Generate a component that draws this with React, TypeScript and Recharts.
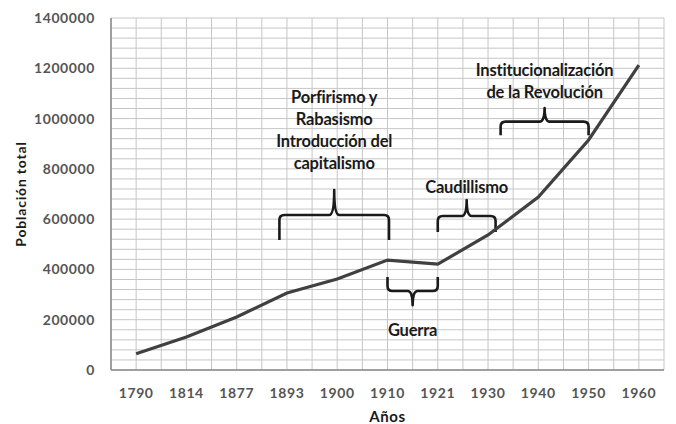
import { LineChart, Line, XAxis, YAxis, CartesianGrid, ReferenceArea, ReferenceDot } from "recharts";

// Censos de población
const years = ["1790", "1814", "1877", "1893", "1900", "1910", "1921", "1930", "1940", "1950", "1960"];
const population = [65000, 131000, 211000, 306000, 362000, 437000, 421000, 537000, 688000, 915000, 1213000];

// Periodos históricos (llaves) en unidades del gráfico: índice de año y población
const periodLabels = [
  ["Porfirismo y", "Rabasismo", "Introducción del", "capitalismo"],
  ["Guerra"],
  ["Caudillismo"],
  ["Institucionalización", "de la Revolución"],
];
const periodStart = [2.85, 5, 6, 7.25];
const periodEnd = [5.03, 6, 7.15, 9];
const braceEnds = [517000, 370000, 549000, 934000];
const braceTip = [716000, 258000, 676000, 1042000];
const labelTop = [1085000, 159000, 728000, 1193000];

const Y_MAX = 1400000;
const Y_LABEL_STEP = 200000;
const Y_GRID_STEP = 40000;

const rows = years.map((year, i) => ({ idx: i, year, pop: population[i] }));
const yTicks = Array.from({ length: Y_MAX / Y_GRID_STEP + 1 }, (_, i) => i * Y_GRID_STEP);
const xTicks = Array.from({ length: years.length * 2 + 1 }, (_, i) => i / 2 - 0.5);

const FONT = "Lato, 'Open Sans', sans-serif";

const braceShape = (up: boolean) => (props: any) => {
  const { x, y, width: w, height: h } = props;
  const cx = x + w / 2;
  const mid = y + h / 2;
  const r = 5;
  const end = up ? y + h : y;
  const tip = up ? y : y + h;
  const s = up ? 1 : -1;
  const d = [
    `M${x},${end}`,
    `L${x},${mid + s * r}`,
    `Q${x},${mid} ${x + r},${mid}`,
    `L${cx - r},${mid}`,
    `Q${cx},${mid} ${cx},${tip}`,
    `Q${cx},${mid} ${cx + r},${mid}`,
    `L${x + w - r},${mid}`,
    `Q${x + w},${mid} ${x + w},${mid + s * r}`,
    `L${x + w},${end}`,
  ].join(" ");
  return <path d={d} fill="none" stroke="#1a1a1a" strokeWidth={2.6} strokeLinejoin="round" />;
};

const labelShape = (lines: string[]) => (props: any) => {
  const { cx, cy } = props;
  return (
    <g>
      {lines.map((t, k) => (
        <text
          key={k}
          x={cx}
          y={cy + k * 22}
          textAnchor="middle"
          dominantBaseline="central"
          fontFamily={FONT}
          fontWeight={700}
          fontSize={16.5}
          letterSpacing={-0.2}
          fill="#1a1a1a"
        >
          {t}
        </text>
      ))}
    </g>
  );
};

const YTitle = (props: any) => {
  const vb = props.viewBox;
  const x = vb.x + 20;
  const y = vb.y + vb.height / 2;
  return (
    <text x={x} y={y} transform={`rotate(-90 ${x} ${y})`} textAnchor="middle" dominantBaseline="central"
      fontFamily={FONT} fontWeight={700} fontSize={14} letterSpacing={0.8} fill="#1a1a1a">
      Población total
    </text>
  );
};

const XTitle = (props: any) => {
  const vb = props.viewBox;
  return (
    <text x={vb.x + vb.width / 2} y={vb.y + vb.height - 2} textAnchor="middle"
      fontFamily={FONT} fontWeight={700} fontSize={15} letterSpacing={0.6} fill="#1a1a1a">
      Años
    </text>
  );
};

const tickStyle = { fontFamily: FONT, fontSize: 14, fontWeight: 700, fill: "#555", letterSpacing: 0.6 };

export default function App() {
  return (
    <div style={{ position: "absolute", left: 0, top: 0, background: "#fff" }}>
      <LineChart width={676} height={424} data={rows} margin={{ top: 18, right: 12, bottom: 0, left: 0 }}>
        <CartesianGrid stroke="#c6c6c6" strokeWidth={1} />
        <XAxis
          dataKey="idx"
          type="number"
          domain={[-0.5, years.length - 0.5]}
          ticks={xTicks}
          interval={0}
          tickFormatter={(v: number) => (Number.isInteger(v) ? years[v] : "")}
          height={54}
          tickSize={0}
          tickMargin={18}
          tick={tickStyle}
          axisLine={{ stroke: "#8a8a8a", strokeWidth: 1.5 }}
          label={<XTitle />}
        />
        <YAxis
          domain={[0, Y_MAX]}
          ticks={yTicks}
          interval={0}
          tickFormatter={(v: number) => (v % Y_LABEL_STEP === 0 ? String(v) : "")}
          width={111}
          tickSize={0}
          tickMargin={16}
          tick={tickStyle}
          axisLine={{ stroke: "#8a8a8a", strokeWidth: 1.5 }}
          label={<YTitle />}
        />
        <Line
          type="linear"
          dataKey="pop"
          stroke="#404040"
          strokeWidth={3.2}
          dot={false}
          isAnimationActive={false}
        />
        {periodLabels.map((lines, i) => (
          <ReferenceArea
            key={`b${i}`}
            x1={periodStart[i]}
            x2={periodEnd[i]}
            y1={braceEnds[i]}
            y2={braceTip[i]}
            shape={braceShape(braceTip[i] > braceEnds[i])}
          />
        ))}
        {periodLabels.map((lines, i) => (
          <ReferenceDot
            key={`l${i}`}
            x={(periodStart[i] + periodEnd[i]) / 2}
            y={labelTop[i]}
            shape={labelShape(lines)}
          />
        ))}
      </LineChart>
    </div>
  );
}
